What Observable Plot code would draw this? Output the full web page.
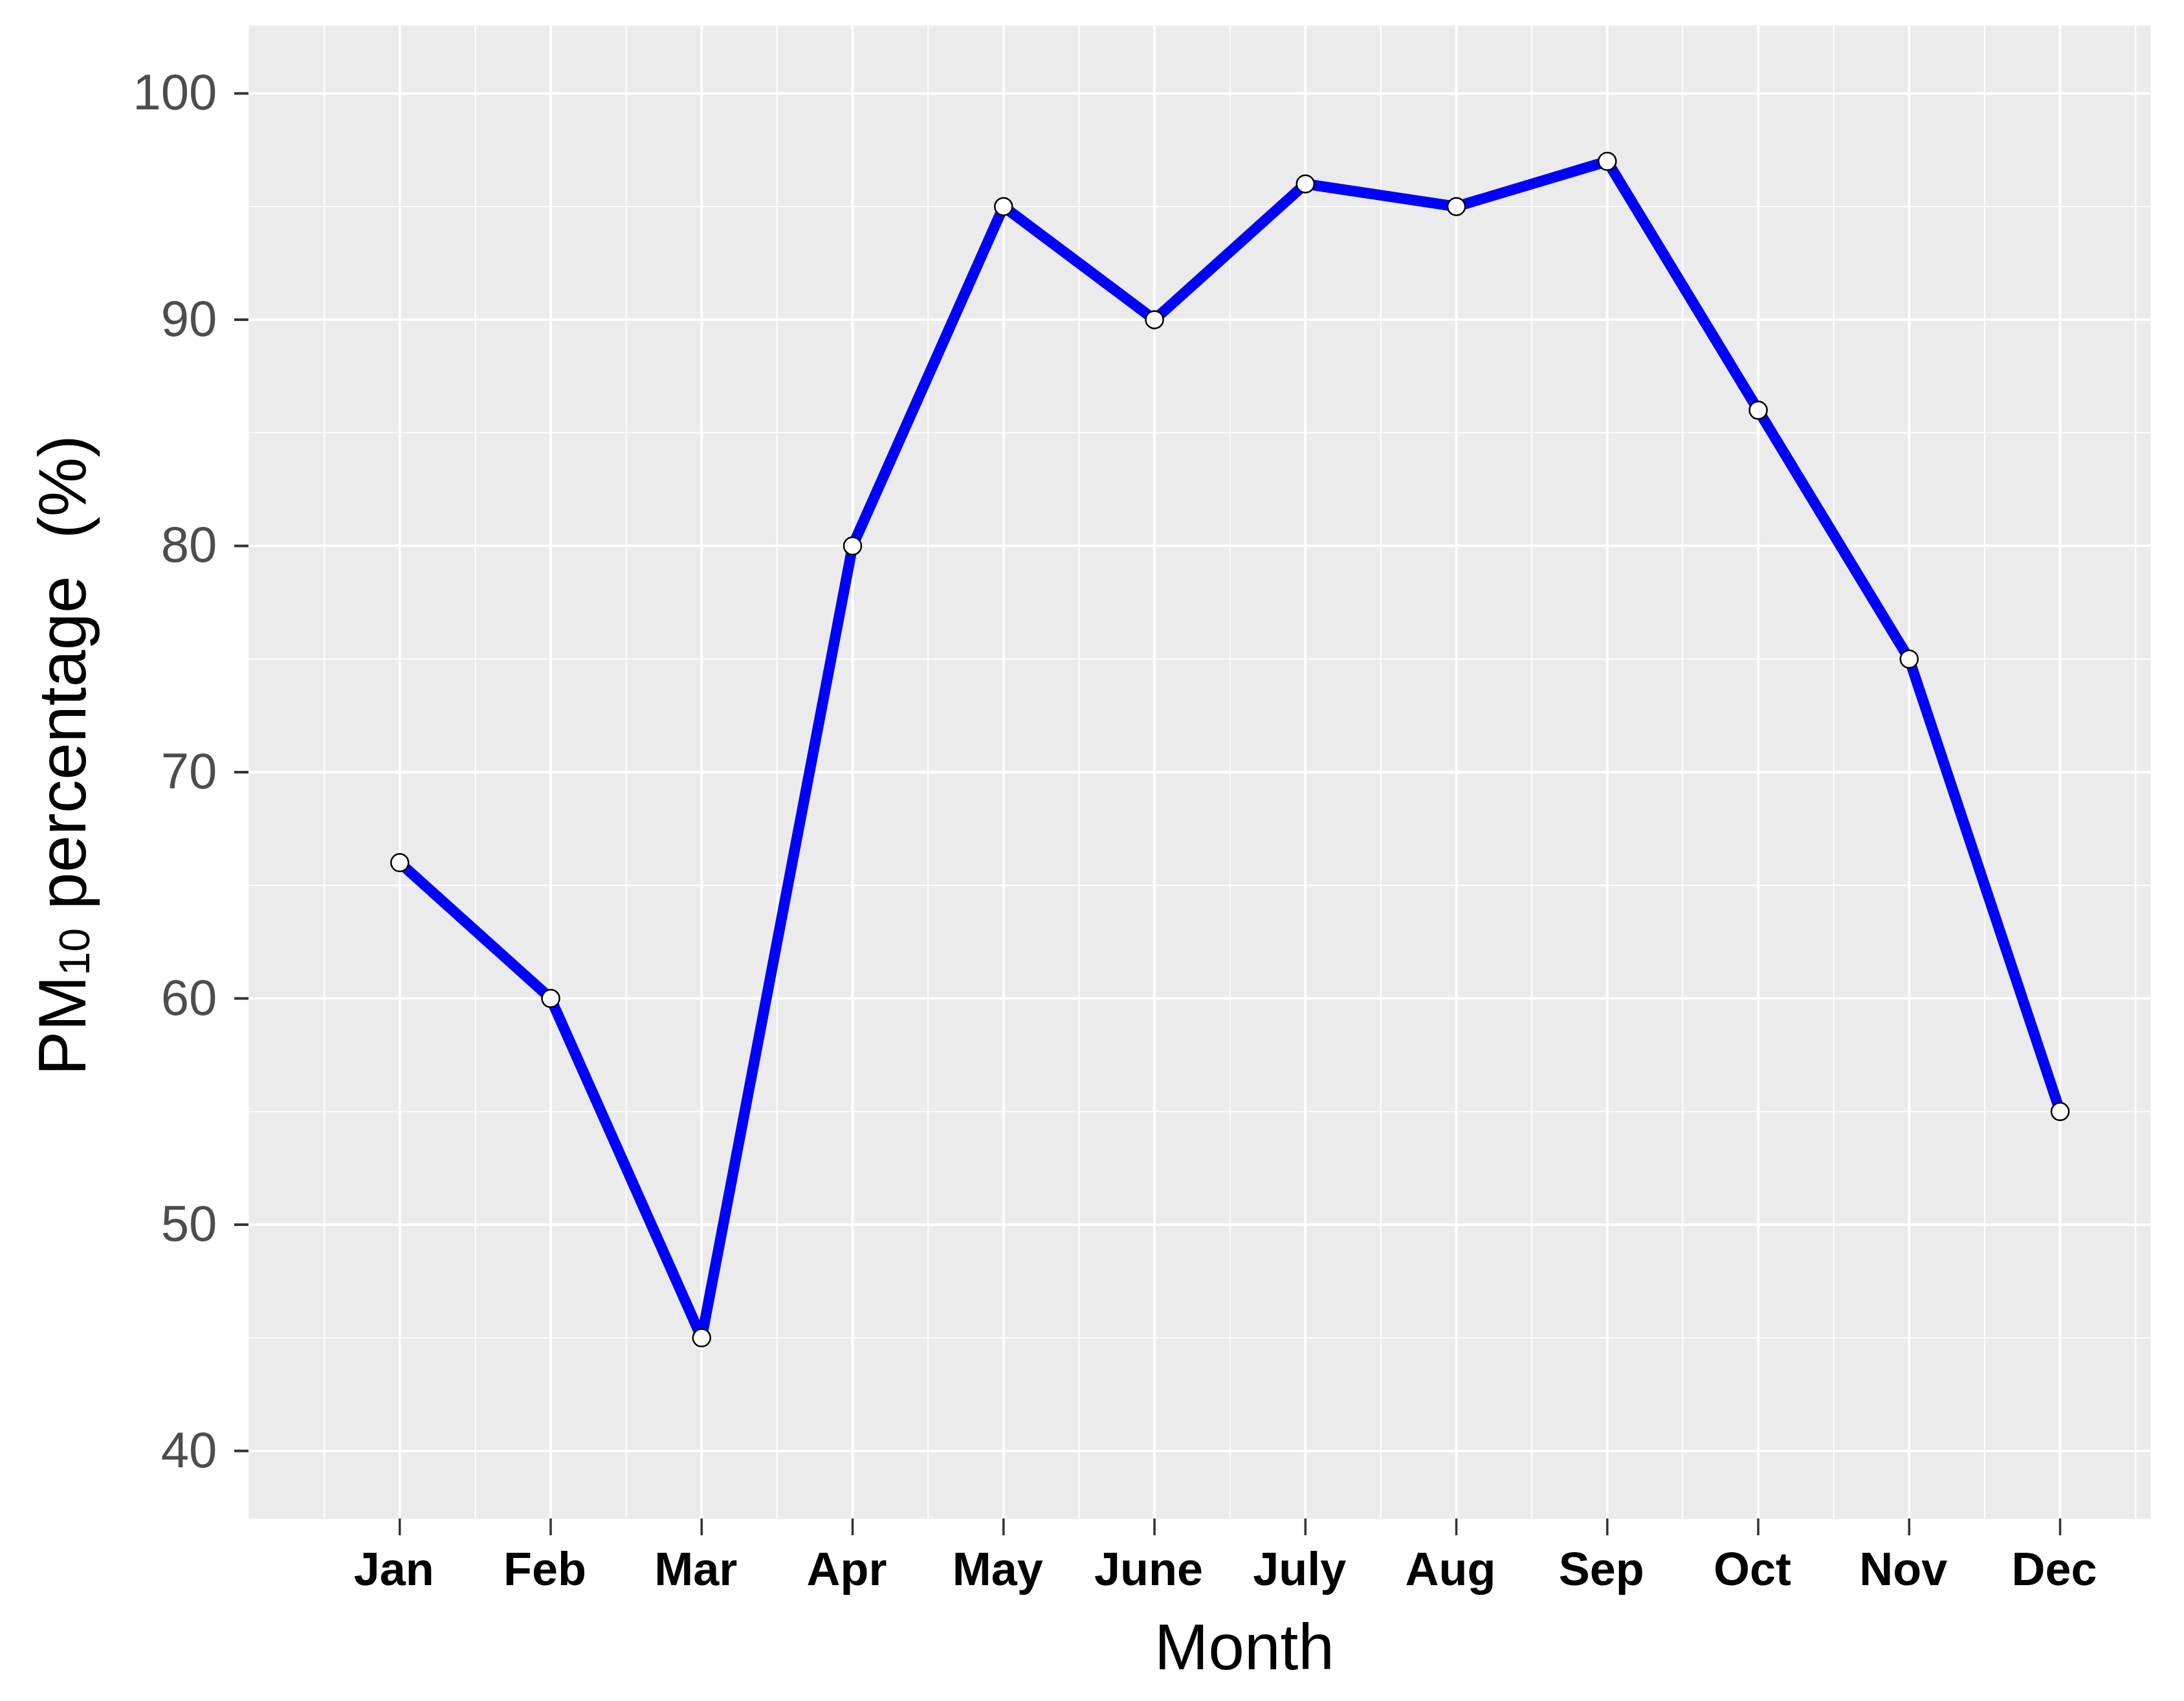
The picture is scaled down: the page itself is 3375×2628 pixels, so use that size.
<!DOCTYPE html>
<html><head><meta charset="utf-8">
<script src="https://cdn.jsdelivr.net/npm/d3@7"></script>
<script src="https://cdn.jsdelivr.net/npm/@observablehq/plot@0.6"></script>
<style>html,body{margin:0;padding:0;background:#fff;} #chart{width:3375px;height:2628px;}</style>
</head><body><div id="chart"></div>
<script>
const months = ["Jan","Feb","Mar","Apr","May","June","July","Aug","Sep","Oct","Nov","Dec"];
const monthIndex = [1,2,3,4,5,6,7,8,9,10,11,12];
const pm10Percentage = [66,60,45,80,95,90,96,95,97,86,75,55];
const yTicks = [40,50,60,70,80,90,100];
const yMinorTicks = [45,55,65,75,85,95];
const xMinorTicks = [0.5,1.5,2.5,3.5,4.5,5.5,6.5,7.5,8.5,9.5,10.5,11.5,12.5];
const xTitle = "Month";
const yTitle = "PM10 percentage  (%)";

const data = months.map((m, i) => ({month: m, idx: monthIndex[i], value: pm10Percentage[i]}));

const chart = Plot.plot({
  width: 3375, height: 2628,
  marginLeft: 384, marginRight: 52, marginTop: 39, marginBottom: 282,
  style: {fontFamily: "'Liberation Sans', Arial, sans-serif", background: "white", overflow: "visible"},
  x: {type: "linear", domain: [0, 12.6]},
  y: {domain: [37, 103]},
  marks: [
    Plot.frame({fill: "#EBEBEB", stroke: "none"}),
    Plot.ruleX(xMinorTicks, {stroke: "white", strokeWidth: 2}),
    Plot.ruleY(yMinorTicks, {stroke: "white", strokeWidth: 1.8}),
    Plot.ruleX(monthIndex, {stroke: "white", strokeWidth: 3.8}),
    Plot.ruleY(yTicks, {stroke: "white", strokeWidth: 3.8}),
    Plot.axisY({ticks: yTicks, tickSize: 22, tickPadding: 27, fontSize: 78, fill: "#4D4D4D", stroke: "#333333", strokeWidth: 4, label: null, tickFormat: d => String(d)}),
    // tick marks only
    Plot.axisX({ticks: monthIndex, tickFormat: () => "", tickSize: 26, stroke: "#333333", strokeWidth: 3.5, label: null}),
    // labels only, nudged slightly left as in the original
    Plot.axisX({ticks: monthIndex, tickFormat: d => months[d - 1], tickSize: 0, tickPadding: 51, fontSize: 72, fontWeight: "bold", fill: "black", label: null, dx: -9}),
    Plot.line(data, {x: "idx", y: "value", stroke: "#0000FF", strokeWidth: 16.5, strokeLinejoin: "round", strokeLinecap: "butt"}),
    Plot.dot(data, {x: "idx", y: "value", r: 13.5, fill: "white", stroke: "black", strokeWidth: 2.5}),
    Plot.text([xTitle], {text: d => d, frameAnchor: "bottom", textAnchor: "middle", dx: 69, dy: 200, fontSize: 100, lineAnchor: "middle", fill: "black"}),
    Plot.text([yTitle], {text: d => d, frameAnchor: "left", textAnchor: "middle", rotate: -90, dx: -285, dy: -26, fontSize: 103, lineAnchor: "middle", fill: "black"})
  ]
});
document.getElementById("chart").appendChild(chart);

d3.select(chart).selectAll("text")
  .filter(function() { return this.textContent === yTitle; })
  .each(function() {
    const t = d3.select(this);
    t.text(null).style("white-space", "pre").attr("text-anchor", "middle");
    t.append("tspan").text("PM");
    t.append("tspan").attr("font-size", 66).attr("dy", 6).text("10");
    t.append("tspan").attr("dy", -6).text(" percentage  (%)");
  });
// remove empty label elements left by the tick-only axis
d3.select(chart).selectAll("text").filter(function() { return this.textContent === ""; }).remove();
</script>
</body></html>
